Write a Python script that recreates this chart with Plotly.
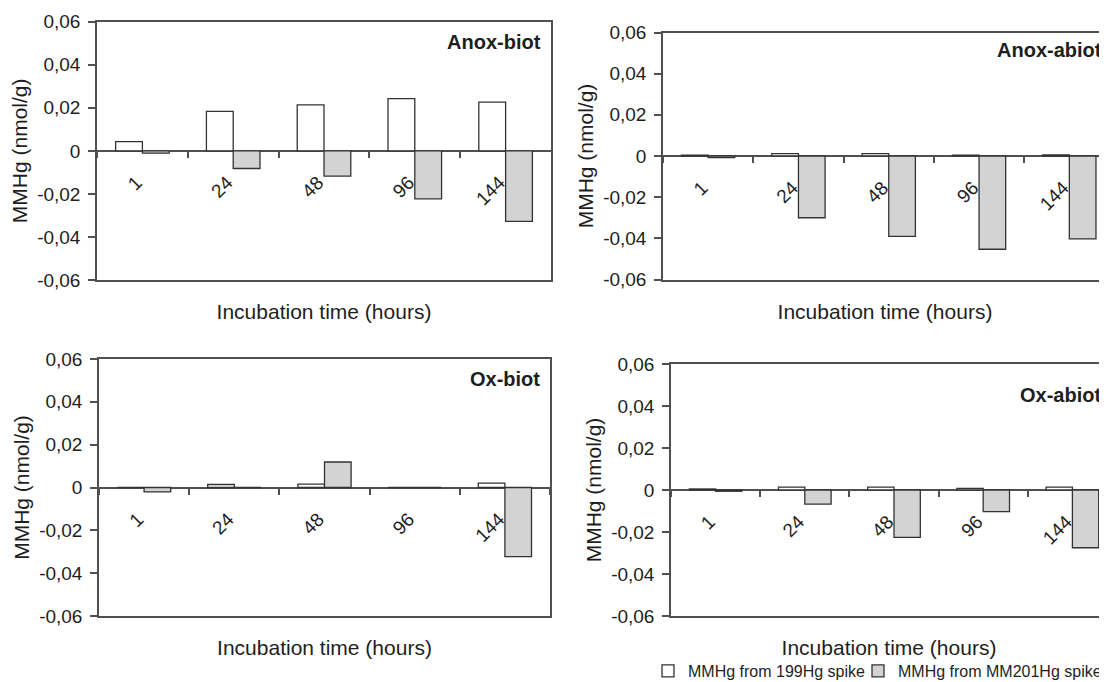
import plotly.graph_objects as go

# ---------------- data ----------------
hours = ["1", "24", "48", "96", "144"]
panel_names = ["Anox-biot", "Anox-abiot", "Ox-biot", "Ox-abiot"]
legend_names = ["MMHg from 199Hg spike", "MMHg from MM201Hg spike"]

spike199_anox_biot = [0.0043, 0.0183, 0.0214, 0.0243, 0.0226]
spike201_anox_biot = [-0.0011, -0.0082, -0.0117, -0.0223, -0.0328]
spike199_anox_abiot = [0.0004, 0.0012, 0.0012, 0.0004, 0.0005]
spike201_anox_abiot = [-0.0008, -0.0300, -0.0390, -0.0453, -0.0403]
spike199_ox_biot = [0.0, 0.0014, 0.0016, 0.0, 0.0020]
spike201_ox_biot = [-0.0020, 0.0, 0.0119, 0.0, -0.0323]
spike199_ox_abiot = [0.0005, 0.0014, 0.0014, 0.0008, 0.0014]
spike201_ox_abiot = [-0.0006, -0.0067, -0.0226, -0.0103, -0.0275]

y_tick_values = [-0.06, -0.04, -0.02, 0, 0.02, 0.04, 0.06]
y_tick_labels = ["-0,06", "-0,04", "-0,02", "0", "0,02", "0,04", "0,06"]
x_title = "Incubation time (hours)"
y_title = "MMHg (nmol/g)"

series_199 = [spike199_anox_biot, spike199_anox_abiot, spike199_ox_biot, spike199_ox_abiot]
series_201 = [spike201_anox_biot, spike201_anox_abiot, spike201_ox_biot, spike201_ox_abiot]

# ---------------- layout geometry (page pixels) ----------------
PAGE_W, PAGE_H = 1107, 682
OFF = 8  # default page body margin around the figure
W, H = PAGE_W - OFF, PAGE_H - OFF
# x0, x1, ytop, ybottom (page px), visible x max (category units), title dx, title dy, right frame
geom = [
    (97, 551, 21.7, 280, 4.5, -8, -20, True),
    (663, 1107, 32.5, 279.5, 4.417, -3, -18, False),
    (99, 550, 359, 616, 4.5, -8, -20, True),
    (671, 1107, 364, 616, 4.388, -4, -31, False),
]
y_range = [-0.06, 0.06]


def px_x(x):
    return (x - OFF) / W


def px_y(y):
    return (H - (y - OFF)) / H


FONT = "Liberation Sans, Arial, Helvetica, sans-serif"
TXT = "#1e1e1e"
LINE = "#505050"
BAR_LINE = "#333333"
GRAY = "#d3d3d3"

legend_common = dict(orientation="h", xanchor="left", yanchor="middle", y=px_y(671),
                     font=dict(size=16, color=TXT), bgcolor="rgba(0,0,0,0)", borderwidth=0,
                     itemwidth=30, tracegroupgap=0)

fig = go.Figure()
layout = dict(
    template="none",
    width=W, height=H,
    margin=dict(l=0, r=0, t=0, b=0, pad=0, autoexpand=False),
    paper_bgcolor="white", plot_bgcolor="white",
    font=dict(family=FONT, color=TXT, size=18),
    barmode="group", bargap=0.41, bargroupgap=0.0,
    showlegend=True,
    legend=dict(x=px_x(648), **legend_common),
    legend2=dict(x=px_x(858), **legend_common),
    hovermode="closest",
)
annotations = []

for i, (x0, x1, yt, yb, xmax, tdx, tdy, right_frame) in enumerate(geom):
    n = i + 1
    xa = "x" if n == 1 else f"x{n}"
    ya = "y" if n == 1 else f"y{n}"
    xkey = "xaxis" if n == 1 else f"xaxis{n}"
    ykey = "yaxis" if n == 1 else f"yaxis{n}"
    ox = f"x{n + 4}"
    okey = f"xaxis{n + 4}"
    dx = [px_x(x0), min(1.0, px_x(x1))]
    dy = [px_y(yb), px_y(yt)]

    fig.add_trace(go.Bar(
        x=hours, y=series_199[i], name=legend_names[0], xaxis=xa, yaxis=ya,
        marker=dict(color="white", line=dict(color=BAR_LINE, width=1.3)),
        legend="legend", legendgroup="a", showlegend=(i == 0)))
    fig.add_trace(go.Bar(
        x=hours, y=series_201[i], name=legend_names[1], xaxis=xa, yaxis=ya,
        marker=dict(color=GRAY, line=dict(color=BAR_LINE, width=1.3)),
        legend="legend2", legendgroup="b", showlegend=(i == 0)))
    # invisible carrier so the category-label axis on the zero line is drawn
    fig.add_trace(go.Scatter(
        x=hours, y=[0] * len(hours), xaxis=ox, yaxis=ya, mode="markers",
        marker=dict(opacity=0, size=1), hoverinfo="skip", showlegend=False))

    layout[xkey] = dict(
        domain=dx, anchor=ya, type="category", categoryorder="array", categoryarray=hours,
        range=[-0.5, xmax], showline=True, mirror=True, linecolor=LINE, linewidth=1.5,
        ticks="", showticklabels=False, showgrid=False, zeroline=False, fixedrange=True,
        automargin=False,
        title=dict(text=x_title, font=dict(size=21, color=TXT), standoff=24),
    )
    layout[ykey] = dict(
        domain=dy, anchor=xa, range=y_range, tickmode="array",
        tickvals=y_tick_values, ticktext=y_tick_labels,
        ticks="outside", ticklen=7, tickwidth=1.5, tickcolor=LINE,
        showline=True, mirror=right_frame, linecolor=LINE, linewidth=1.5,
        showgrid=False, zeroline=True, zerolinecolor=LINE, zerolinewidth=1.5,
        tickfont=dict(size=19, color=TXT), ticklabelstandoff=4, fixedrange=True,
        automargin=False,
        title=dict(text=y_title, font=dict(size=21, color=TXT), standoff=4),
    )
    zero_pos = dy[0] + (dy[1] - dy[0]) * (0 - y_range[0]) / (y_range[1] - y_range[0])
    layout[okey] = dict(
        overlaying=xa, anchor="free", position=zero_pos, side="bottom",
        type="category", categoryorder="array", categoryarray=hours,
        range=[-0.5, xmax], tickson="boundaries",
        ticks="outside", ticklen=6, tickwidth=1.5, tickcolor=LINE,
        tickangle=-45, showline=False, showgrid=False, zeroline=False,
        tickfont=dict(size=19, color=TXT), ticklabelstandoff=16, ticklabelshift=-6,
        fixedrange=True, automargin=False,
    )
    annotations.append(dict(
        text=f"<b>{panel_names[i]}</b>", xref=f"{xa} domain", yref=f"{ya} domain",
        x=1, y=1, xanchor="right", yanchor="middle", xshift=tdx, yshift=tdy,
        showarrow=False, font=dict(size=20, color=TXT)))

layout["annotations"] = annotations
fig.update_layout(**layout)
fig.write_html("out.html")
